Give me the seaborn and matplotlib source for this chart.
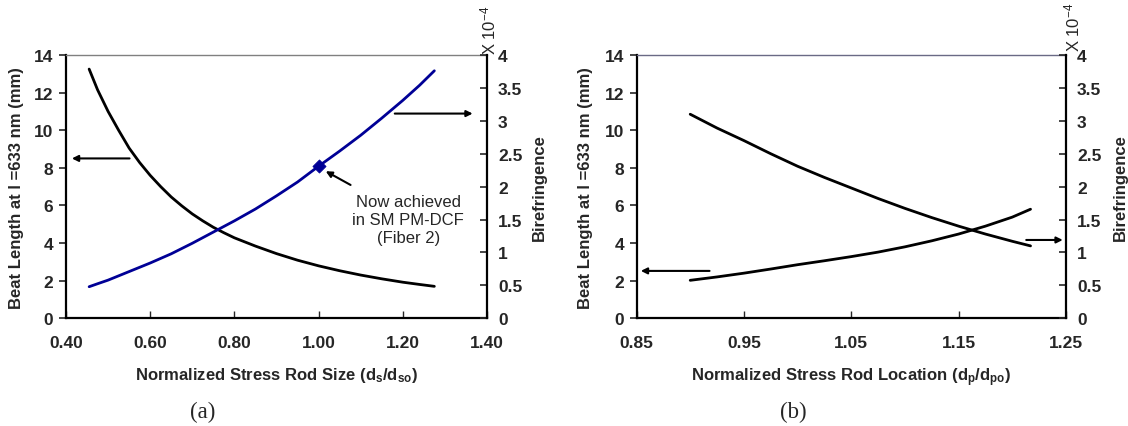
# ----------------------------------------
# Beat length / birefringence vs stress rod size and location
# ----------------------------------------

import numpy as np
import pandas as pd
import matplotlib
matplotlib.use("Agg")
import matplotlib.pyplot as plt
from matplotlib.ticker import FormatStrFormatter, MultipleLocator
import seaborn as sns

# ----------------------------------------
# Data
# ----------------------------------------

# (a) stress rod size
size_x = [0.455, 0.475, 0.50, 0.525, 0.55, 0.575, 0.60, 0.625, 0.65, 0.675,
          0.70, 0.725, 0.75, 0.775, 0.80, 0.85, 0.90, 0.95, 1.00, 1.05,
          1.10, 1.15, 1.20, 1.24, 1.275]
size_beat = [13.25, 12.15, 11.0, 10.0, 9.05, 8.28, 7.60, 7.00, 6.45, 5.98,
             5.55, 5.18, 4.84, 4.55, 4.28, 3.84, 3.44, 3.09, 2.79, 2.53,
             2.30, 2.10, 1.92, 1.80, 1.70]
size_biref = [0.48, 0.525, 0.58, 0.645, 0.71, 0.775, 0.84, 0.91, 0.98, 1.06,
              1.14, 1.225, 1.31, 1.395, 1.48, 1.66, 1.86, 2.07, 2.31, 2.54,
              2.78, 3.04, 3.31, 3.54, 3.76]

# achieved fiber point
fiber_x = [1.00]
fiber_biref = [2.31]

# (b) stress rod location
loc_x = [0.90, 0.925, 0.95, 0.975, 1.00, 1.025, 1.05, 1.075, 1.10, 1.125,
         1.15, 1.175, 1.20, 1.217]
loc_beat = [2.02, 2.20, 2.40, 2.62, 2.85, 3.06, 3.28, 3.52, 3.80, 4.12,
            4.48, 4.90, 5.38, 5.80]
loc_biref = [3.10, 2.89, 2.70, 2.50, 2.31, 2.14, 1.98, 1.82, 1.67, 1.53,
             1.40, 1.28, 1.17, 1.10]

df_a = pd.DataFrame({"x": size_x, "beat": size_beat, "biref": size_biref})
df_b = pd.DataFrame({"x": loc_x, "beat": loc_beat, "biref": loc_biref})

# ----------------------------------------
# Style
# ----------------------------------------

sns.set_style("white")
plt.rcParams["font.family"] = ["Liberation Sans", "DejaVu Sans"]
plt.rcParams["mathtext.fontset"] = "custom"
plt.rcParams["mathtext.bf"] = "Liberation Sans:bold"
plt.rcParams["mathtext.rm"] = "Liberation Sans"
plt.rcParams["mathtext.default"] = "bf"

NAVY = "#000096"
TICK_FS = 12.5
LABEL_FS = 12

fig = plt.figure(figsize=(11.28, 4.27), dpi=100)
ax_a = fig.add_axes([0.0585, 0.2522, 0.3732, 0.6167])
ax_b = fig.add_axes([0.5643, 0.2522, 0.3807, 0.6167])


def style_axes(ax, ax2, top_color):
    ax.set_ylim(0, 14)
    ax.yaxis.set_major_locator(MultipleLocator(2))
    ax2.set_ylim(0, 4)
    ax2.yaxis.set_major_locator(MultipleLocator(0.5))
    ax2.yaxis.set_major_formatter(FormatStrFormatter("%g"))

    ax.tick_params(axis="y", direction="out", length=5, width=1.2,
                   pad=4, labelsize=TICK_FS, left=True)
    ax.tick_params(axis="x", direction="in", length=5, width=1.0,
                   pad=12, labelsize=TICK_FS, bottom=True)
    ax2.tick_params(axis="y", direction="in", length=5, width=1.2,
                    pad=8, labelsize=TICK_FS, right=True)
    for lab in ax.get_xticklabels() + ax.get_yticklabels() + ax2.get_yticklabels():
        lab.set_fontweight("bold")

    for s in ["left", "bottom"]:
        ax.spines[s].set_color("black")
        ax.spines[s].set_linewidth(1.6)
    ax.spines["right"].set_visible(False)
    ax.spines["top"].set_color(top_color)
    ax.spines["top"].set_linewidth(1.0)
    for s in ["left", "bottom", "top"]:
        ax2.spines[s].set_visible(False)
    ax2.spines["right"].set_color("black")
    ax2.spines["right"].set_linewidth(1.6)

    ax.set_ylabel("Beat Length at l =633 nm (mm)", fontsize=LABEL_FS,
                  fontweight="bold")
    ax2.set_ylabel("Birefringence", fontsize=LABEL_FS, fontweight="bold",
                   rotation=90)


arrow = dict(arrowstyle="-|>", color="black", lw=1.5, mutation_scale=9,
             shrinkA=0, shrinkB=0)

# ----------------------------------------
# (a) Stress rod size
# ----------------------------------------

ax2_a = ax_a.twinx()
sns.lineplot(data=df_a, x="x", y="beat", ax=ax_a, color="black", lw=2.0)
sns.lineplot(data=df_a, x="x", y="biref", ax=ax2_a, color=NAVY, lw=2.0)
sns.scatterplot(x=fiber_x, y=fiber_biref, ax=ax2_a, color=NAVY,
                marker="D", s=45, edgecolor=NAVY, zorder=5)

ax_a.set_xlim(0.40, 1.40)
ax_a.xaxis.set_major_locator(MultipleLocator(0.2))
ax_a.xaxis.set_major_formatter(FormatStrFormatter("%.2f"))
style_axes(ax_a, ax2_a, "#808080")
ax_a.set_xlabel("Normalized Stress Rod Size (d$_{s}$/d$_{so}$)",
                fontsize=LABEL_FS, fontweight="bold")
ax_a.xaxis.set_label_coords(0.5, -0.177)
ax_a.yaxis.set_label_coords(-0.100, 0.5)
ax2_a.yaxis.set_label_coords(1.107, 0.5)

ax_a.annotate("", xy=(0.414, 8.5), xytext=(0.551, 8.5), arrowprops=arrow)
ax2_a.annotate("", xy=(1.366, 3.11), xytext=(1.181, 3.11), arrowprops=arrow)
ax_a.annotate("", xy=(1.017, 7.82), xytext=(1.076, 7.09), arrowprops=arrow)
ax_a.text(1.213, 5.24, "Now achieved\nin SM PM-DCF\n(Fiber 2)", ha="center",
          va="center", fontsize=12, linespacing=1.25)

# ----------------------------------------
# (b) Stress rod location
# ----------------------------------------

ax2_b = ax_b.twinx()
sns.lineplot(data=df_b, x="x", y="beat", ax=ax_b, color="black", lw=2.0)
sns.lineplot(data=df_b, x="x", y="biref", ax=ax2_b, color="black", lw=2.0)

ax_b.set_xlim(0.85, 1.25)
ax_b.set_xticks([0.85, 0.95, 1.05, 1.15, 1.25])
ax_b.xaxis.set_major_formatter(FormatStrFormatter("%.2f"))
style_axes(ax_b, ax2_b, "#6a6a85")
ax_b.set_xlabel("Normalized Stress Rod Location (d$_{p}$/d$_{po}$)",
                fontsize=LABEL_FS, fontweight="bold")
ax_b.xaxis.set_label_coords(0.5, -0.177)
ax_b.yaxis.set_label_coords(-0.101, 0.5)
ax2_b.yaxis.set_label_coords(1.109, 0.5)

ax_b.annotate("", xy=(0.854, 2.52), xytext=(0.918, 2.52), arrowprops=arrow)
ax2_b.annotate("", xy=(1.247, 1.19), xytext=(1.213, 1.19), arrowprops=arrow)

# ----------------------------------------
# Scale factor labels and captions
# ----------------------------------------

fig.text(0.4326, 0.871, "X 10$^{\\mathrm{-4}}$", rotation=90, ha="center",
         va="bottom", fontsize=12)
fig.text(0.9504, 0.878, "X 10$^{\\mathrm{-4}}$", rotation=90, ha="center",
         va="bottom", fontsize=12)

fig.text(0.180, 0.035, "(a)", ha="center", va="center", fontsize=16.5,
         family="Liberation Serif")
fig.text(0.703, 0.035, "(b)", ha="center", va="center", fontsize=16.5,
         family="Liberation Serif")

plt.savefig("out.png", dpi=100)
